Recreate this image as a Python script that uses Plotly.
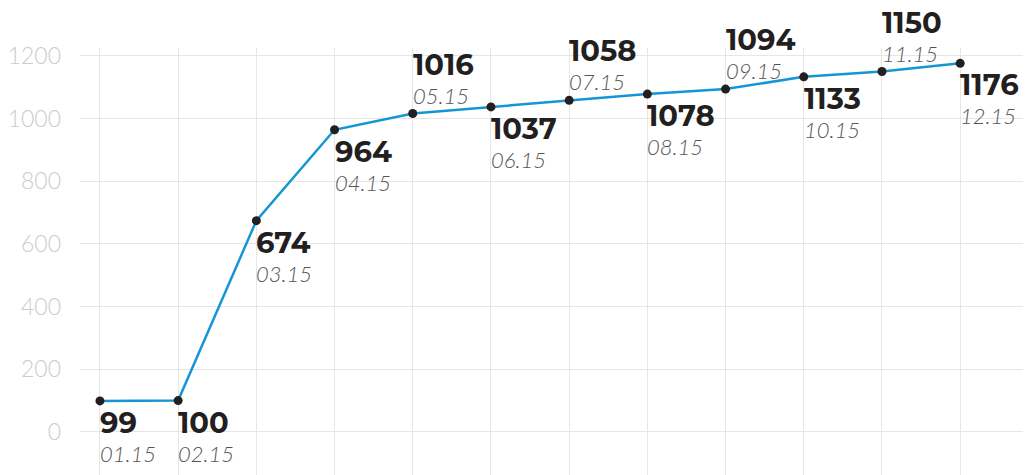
import plotly.graph_objects as go

months = ["01.15", "02.15", "03.15", "04.15", "05.15", "06.15",
          "07.15", "08.15", "09.15", "10.15", "11.15", "12.15"]
values = [99, 100, 674, 964, 1016, 1037, 1058, 1078, 1094, 1133, 1150, 1176]
label_pos = ["below", "below", "below", "below", "above", "below",
             "above", "below", "above", "below", "above", "below"]
y_ticks = [0, 200, 400, 600, 800, 1000, 1200]

xs = list(range(len(months)))

fig = go.Figure()
fig.add_trace(go.Scatter(
    x=xs, y=values, mode="lines+markers",
    line=dict(color="#1496d6", width=2.5),
    marker=dict(color="#231f20", size=9),
    hoverinfo="skip",
))

val_style = "font-family:Montserrat, Inter, sans-serif;font-size:29px;font-weight:700;fill:#231f20"
annotations = []
for x, v, m, p in zip(xs, values, months, label_pos):
    shift = -35 if p == "below" else 36
    annotations.append(dict(
        x=x, y=v, xref="x", yref="y",
        text=f"<span style='{val_style}'>{v}</span><br><i>{m}</i>",
        showarrow=False, align="left",
        xanchor="left", yanchor="middle", xshift=-2, yshift=shift,
        font=dict(family="Lato, sans-serif", size=22, color="#555555", weight=300),
    ))

fig.update_layout(
    width=1031, height=475,
    margin=dict(l=69, r=0, t=40, b=0),
    paper_bgcolor="white", plot_bgcolor="white",
    showlegend=False,
    annotations=annotations,
    xaxis=dict(
        range=[-0.255, 12.008], tickmode="linear", dtick=1, tick0=0,
        showticklabels=False, showgrid=True, gridcolor="#e6e6e6", gridwidth=1,
        zeroline=False, showline=False,
    ),
    yaxis=dict(
        range=[-163, 1225], tickmode="array", tickvals=y_ticks,
        ticktext=[str(t) for t in y_ticks],
        showgrid=True, gridcolor="#e6e6e6", gridwidth=1,
        zeroline=False, showline=False,
        ticklabelstandoff=18,
        tickfont=dict(family="Lato, sans-serif", size=23, color="#cccccc", weight=300),
    ),
)

fig.write_html("out.html")
